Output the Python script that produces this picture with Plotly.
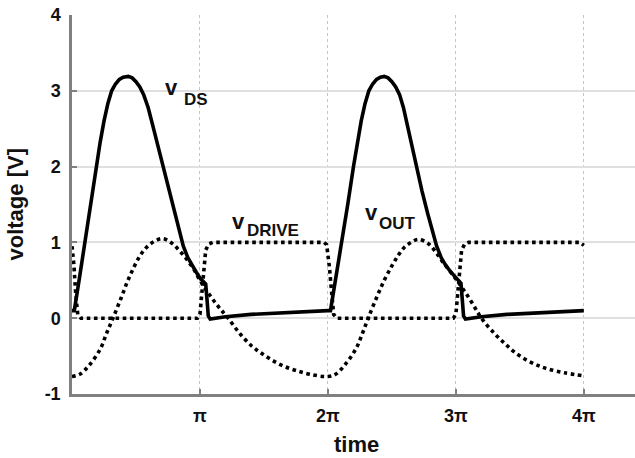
import plotly.graph_objects as go

# time in units of pi
t_ds = [0.0, 0.018, 0.06, 0.10, 0.145, 0.19, 0.22, 0.25, 0.28, 0.31, 0.34, 0.37, 0.40, 0.44, 0.47,
        0.50, 0.53, 0.56, 0.595, 0.63, 0.67, 0.71, 0.755, 0.80, 0.835, 0.87, 0.905, 0.94, 0.97,
        1.0, 1.03, 1.045, 1.055, 1.065, 1.08, 1.12, 1.2, 1.4, 1.6, 1.8, 2.0,
        2.02, 2.065, 2.11, 2.155, 2.20, 2.23, 2.26, 2.29, 2.32, 2.35, 2.38, 2.41, 2.44, 2.47,
        2.50, 2.53, 2.56, 2.59, 2.62, 2.655, 2.69, 2.735, 2.78, 2.815, 2.85, 2.885, 2.92, 2.96,
        3.0, 3.025, 3.04, 3.05, 3.06, 3.075, 3.11, 3.2, 3.4, 3.6, 3.8, 4.0]
v_ds = [0.1, 0.1, 0.55, 1.0, 1.5, 2.0, 2.32, 2.6, 2.83, 3.0, 3.09, 3.15, 3.18, 3.19, 3.17,
        3.12, 3.05, 2.95, 2.78, 2.55, 2.28, 2.0, 1.68, 1.38, 1.15, 0.95, 0.80, 0.69, 0.61,
        0.53, 0.47, 0.45, 0.25, 0.03, -0.01, 0.0, 0.02, 0.05, 0.07, 0.09, 0.1,
        0.1, 0.55, 1.0, 1.5, 2.0, 2.32, 2.6, 2.83, 3.0, 3.09, 3.15, 3.18, 3.19, 3.17,
        3.12, 3.05, 2.95, 2.78, 2.55, 2.28, 2.0, 1.68, 1.38, 1.15, 0.95, 0.80, 0.70, 0.61,
        0.54, 0.48, 0.46, 0.25, 0.03, -0.01, 0.0, 0.02, 0.05, 0.07, 0.09, 0.1]

t_out = [0.0, 0.06, 0.13, 0.22, 0.27, 0.32, 0.38, 0.43, 0.48, 0.53, 0.58, 0.64, 0.71, 0.78, 0.84,
         0.90, 0.95, 1.0, 1.05, 1.10, 1.16, 1.22, 1.31, 1.40, 1.47, 1.56, 1.65, 1.75, 1.86, 2.0,
         2.06, 2.14, 2.22, 2.27, 2.315, 2.38, 2.44, 2.50, 2.55, 2.60, 2.65, 2.705, 2.78, 2.84,
         2.89, 2.95, 3.02, 3.07, 3.12, 3.17, 3.20, 3.30, 3.38, 3.46, 3.56, 3.65, 3.72, 3.85, 4.0]
v_out = [-0.77, -0.74, -0.63, -0.41, -0.2, 0.0, 0.25, 0.47, 0.66, 0.82, 0.93, 1.01, 1.05, 0.99, 0.89,
         0.77, 0.65, 0.5, 0.37, 0.25, 0.12, 0.0, -0.2, -0.36, -0.45, -0.55, -0.63, -0.69, -0.74, -0.77,
         -0.74, -0.6, -0.4, -0.2, 0.0, 0.27, 0.5, 0.69, 0.83, 0.94, 1.0, 1.04, 0.99, 0.88,
         0.76, 0.63, 0.47, 0.35, 0.22, 0.08, 0.0, -0.2, -0.33, -0.45, -0.56, -0.63, -0.67, -0.72, -0.76]

t_drive = [0.0, 0.015, 0.03, 0.045, 0.07, 0.98, 1.0, 1.015, 1.03, 1.045, 1.07, 1.1, 1.97, 1.99,
           2.01, 2.03, 2.045, 2.07, 2.98, 3.0, 3.015, 3.03, 3.045, 3.07, 3.1, 3.97, 4.0]
v_drive = [0.95, 0.7, 0.3, 0.05, 0.0, 0.0, 0.05, 0.3, 0.65, 0.9, 0.98, 1.0, 1.0, 0.97,
           0.7, 0.3, 0.05, 0.0, 0.0, 0.05, 0.3, 0.65, 0.9, 0.98, 1.0, 1.0, 0.96]

x_tickvals = [1, 2, 3, 4]
x_ticktext = ["π", "2π", "3π", "4π"]
y_tickvals = [-1, 0, 1, 2, 3, 4]
y_ticktext = ["-1", "0", "1", "2", "3", "4"]

FONT = "Liberation Sans, Arial, Helvetica, sans-serif"

fig = go.Figure()
fig.add_trace(go.Scatter(x=t_out, y=v_out, mode="lines",
                         line=dict(color="black", width=3.6, dash="dot", shape="spline")))
fig.add_trace(go.Scatter(x=t_drive, y=v_drive, mode="lines",
                         line=dict(color="black", width=3.6, dash="dot")))
fig.add_trace(go.Scatter(x=t_ds, y=v_ds, mode="lines",
                         line=dict(color="black", width=3.6)))

labels = [
    # (x of v, y of v, x of sub, y of sub, sub text)
    (0.78, 3.05, 0.86, 2.89, "DS"),
    (1.30, 1.28, 1.35, 1.16, "DRIVE"),
    (2.34, 1.40, 2.38, 1.25, "OUT"),
]
ann = []
for xv, yv, xs, ys, sub in labels:
    ann.append(dict(x=xv, y=yv, xref="x", yref="y", text="v", showarrow=False,
                    xanchor="center", yanchor="middle",
                    font=dict(family=FONT, size=22, color="#111", weight="bold")))
    ann.append(dict(x=xs, y=ys, xref="x", yref="y", text=sub, showarrow=False,
                    xanchor="left", yanchor="middle",
                    font=dict(family=FONT, size=17, color="#111", weight="bold")))
ann.append(dict(x=0, y=0.5, xref="paper", yref="paper", xshift=-57, text="voltage [V]",
                textangle=-90, showarrow=False, xanchor="center", yanchor="middle",
                font=dict(family=FONT, size=22, color="#111", weight="bold")))
ann.append(dict(x=(356.5 - 72) / 563, y=0, xref="paper", yref="paper", yshift=-50, text="time",
                showarrow=False, xanchor="center", yanchor="middle",
                font=dict(family=FONT, size=22, color="#111", weight="bold")))

fig.update_layout(
    width=635, height=458,
    margin=dict(l=72, r=0, t=15, b=64),
    paper_bgcolor="white", plot_bgcolor="white",
    showlegend=False,
    annotations=ann,
    xaxis=dict(range=[0, 4.40], tickvals=x_tickvals, ticktext=x_ticktext,
               showgrid=True, gridcolor="#c4c4c4", griddash="dot", gridwidth=1,
               showline=True, linecolor="#808080", linewidth=2.5,
               ticks="inside", ticklen=5, tickcolor="#808080", tickwidth=1.5,
               zeroline=False, ticklabelstandoff=4,
               tickfont=dict(family=FONT, size=18, color="#111", weight="bold")),
    yaxis=dict(range=[-1, 4], tickvals=y_tickvals, ticktext=y_ticktext,
               showgrid=True, gridcolor="#e0e0e0", gridwidth=1.5,
               showline=True, linecolor="#808080", linewidth=2.5,
               ticks="inside", ticklen=5, tickcolor="#808080", tickwidth=1.5,
               zeroline=False, ticklabelstandoff=5,
               tickfont=dict(family=FONT, size=18, color="#111", weight="bold")),
)

fig.write_html("out.html", config={"displayModeBar": False},
               post_script="document.body.style.margin='0';")
